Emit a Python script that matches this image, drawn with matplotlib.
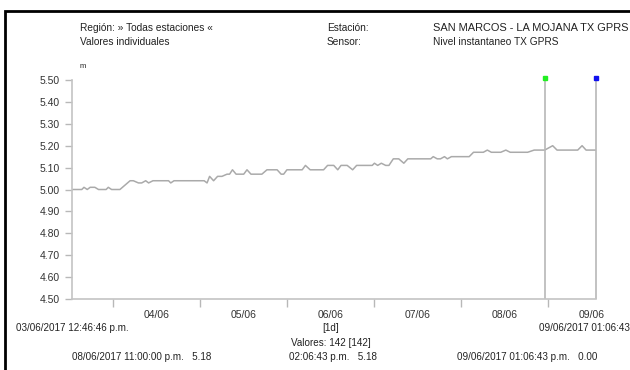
import datetime as dt
import matplotlib
matplotlib.use("Agg")
import matplotlib.pyplot as plt
import matplotlib.dates as mdates
from matplotlib.patches import Rectangle

plt.rcParams['font.family'] = ['Liberation Sans', 'DejaVu Sans']

# serie (horas desde el inicio, nivel en m)
inicio = dt.datetime(2017, 6, 3, 12, 46, 46)
fin = dt.datetime(2017, 6, 9, 13, 6, 43)
horas = [0, 2.7, 3.3, 4.2, 5.0, 6.3, 7.3, 9.4, 10.0, 10.9, 13.2, 16.0, 16.9, 18.3, 19.2,
         20.3, 21.1, 22.3, 26.6, 27.2, 28.1, 36.4, 37.2, 37.9, 39.0, 40.1, 41.3, 42.7,
         43.4, 44.2, 45.2, 47.3, 48.2, 49.3, 52.3, 53.7, 56.5, 57.6, 58.3, 59.2, 63.4,
         64.3, 65.6, 69.3, 70.4, 72.1, 73.2, 74.1, 75.8, 77.3, 78.4, 82.7, 83.3, 84.2,
         85.2, 86.4, 87.3, 88.5, 90.0, 91.4, 92.5, 98.8, 99.5, 100.6, 101.5, 102.6,
         103.4, 104.5, 109.4, 110.6, 113.3, 114.4, 115.5, 118.1, 119.5, 120.7, 125.5,
         127.3, 130.2, 132.4, 133.6, 139.3, 140.5, 141.6, 144.33]
nivel = [5.00, 5.00, 5.01, 5.00, 5.01, 5.01, 5.00, 5.00, 5.01, 5.00, 5.00, 5.04, 5.04,
         5.03, 5.03, 5.04, 5.03, 5.04, 5.04, 5.03, 5.04, 5.04, 5.03, 5.06, 5.04, 5.06,
         5.06, 5.07, 5.07, 5.09, 5.07, 5.07, 5.09, 5.07, 5.07, 5.09, 5.09, 5.07, 5.07,
         5.09, 5.09, 5.11, 5.09, 5.09, 5.11, 5.11, 5.09, 5.11, 5.11, 5.09, 5.11, 5.11,
         5.12, 5.11, 5.12, 5.11, 5.11, 5.14, 5.14, 5.12, 5.14, 5.14, 5.15, 5.14, 5.14,
         5.15, 5.14, 5.15, 5.15, 5.17, 5.17, 5.18, 5.17, 5.17, 5.18, 5.17, 5.17, 5.18,
         5.18, 5.20, 5.18, 5.18, 5.20, 5.18, 5.18]
tiempos = [inicio + dt.timedelta(hours=h) for h in horas]

cursores = [dt.datetime(2017, 6, 8, 23, 0, 0), fin]
colores_cursor = ['#22ee22', '#1010ee']
yticks = [4.5, 4.6, 4.7, 4.8, 4.9, 5.0, 5.1, 5.2, 5.3, 5.4, 5.5]

W, H = 630, 370
fig = plt.figure(figsize=(6.3, 3.7), dpi=100)
ax = fig.add_axes([72 / W, 1 - 299 / H, (596 - 72) / W, (299 - 80) / H])

ax.plot(tiempos, nivel, color='#aaaaaa', lw=1.1)
for t, c in zip(cursores, colores_cursor):
    ax.vlines(t, 4.5, 5.51, color='#b8b8b8', lw=1.2, clip_on=False)
    ax.plot([t], [5.51], marker='s', ms=3, color=c, clip_on=False)

ax.set_xlim(inicio, fin)
ax.set_ylim(4.5, 5.5)
ax.set_yticks(yticks)
ax.set_yticklabels(['%.2f' % v for v in yticks])

ax.xaxis.set_major_locator(mdates.DayLocator())
ax.xaxis.set_major_formatter(plt.NullFormatter())
ax.xaxis.set_minor_locator(mdates.HourLocator(byhour=12))
ax.xaxis.set_minor_formatter(mdates.DateFormatter('%d/%m'))
ax.tick_params(axis='x', which='major', length=6, color='#b8b8b8', width=1)
ax.tick_params(axis='x', which='minor', length=0, pad=8, labelsize=7.5, labelcolor='#333333')
ax.tick_params(axis='y', length=5, color='#b8b8b8', width=1, pad=4, labelsize=7.5,
               labelcolor='#333333')

for s in ['top', 'right']:
    ax.spines[s].set_visible(False)
for s in ['left', 'bottom']:
    ax.spines[s].set_color('#c4c4c4')
    ax.spines[s].set_linewidth(1.2)

# marco negro
fig.patches.append(Rectangle((5 / W, -0.1), 2, 1.1 - 11 / H, transform=fig.transFigure,
                             fill=False, edgecolor='black', lw=2))


def texto(x, y, s, **kw):
    kw.setdefault('fontsize', 7.3)
    kw.setdefault('color', '#222222')
    fig.text(x / W, 1 - y / H, s, va='center', **kw)


texto(80, 28, 'Región: » Todas estaciones «')
texto(80, 42, 'Valores individuales')
texto(327, 28, 'Estación:')
texto(327, 42, 'Sensor:')
texto(433, 28, 'SAN MARCOS - LA MOJANA TX GPRS', fontsize=7.9)
texto(433, 42, 'Nivel instantaneo TX GPRS')
texto(80, 66, 'm', fontsize=5.5)

texto(16, 328, '03/06/2017 12:46:46 p.m.', fontsize=7.1)
texto(652, 328, '09/06/2017 01:06:43 p.m.', fontsize=7.1, ha='right')
texto(331, 328, '[1d]', fontsize=7.1, ha='center')
texto(331, 343, 'Valores: 142 [142]', fontsize=7.1, ha='center')
texto(72, 357, '08/06/2017 11:00:00 p.m.   5.18', fontsize=7.1)
texto(289, 357, '02:06:43 p.m.   5.18', fontsize=7.1)
texto(457, 357, '09/06/2017 01:06:43 p.m.   0.00', fontsize=7.1)

fig.savefig('out.png', dpi=100)
